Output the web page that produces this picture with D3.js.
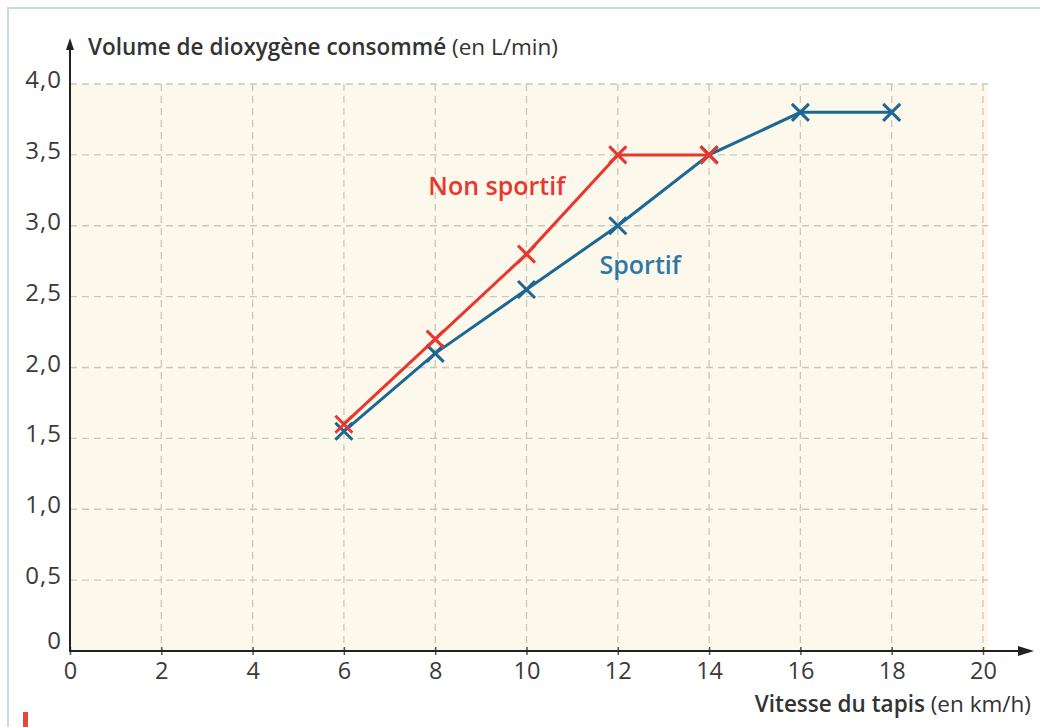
<!DOCTYPE html>
<html>
<head>
<meta charset="utf-8">
<script src="https://cdn.jsdelivr.net/npm/d3@7"></script>
<style>
  body { margin: 0; background: #fff; }
  text { font-family: "Open Sans", "Noto Sans", sans-serif; }
</style>
</head>
<body>
<div id="chart-area"></div>
<script>
// data
var speeds = [0, 2, 4, 6, 8, 10, 12, 14, 16, 18, 20];
var volumeTicks = [0, 0.5, 1, 1.5, 2, 2.5, 3, 3.5, 4];
var nonSportifX = [6, 8, 10, 12, 14];
var nonSportifY = [1.6, 2.2, 2.8, 3.5, 3.5];
var sportifX = [6, 8, 10, 12, 14, 16, 18];
var sportifY = [1.55, 2.1, 2.55, 3.0, 3.5, 3.8, 3.8];

var W = 1040, H = 727;
var margin = { left: 70, right: 57, top: 84, bottom: 76 };
var width = 983 - margin.left;
var height = 651 - margin.top;

var red = "#e8372f", blue = "#1d6795";

var svg = d3.select("#chart-area").append("svg")
  .attr("width", W)
  .attr("height", H);

// page frame
svg.append("path")
  .attr("d", "M8,727 L8,8 L1040,8")
  .attr("fill", "none")
  .attr("stroke", "#c9dbe2")
  .attr("stroke-width", 2);
svg.append("rect")
  .attr("x", 23).attr("y", 712).attr("width", 5).attr("height", 15)
  .attr("fill", "#e8463a");

var g = svg.append("g")
  .attr("transform", "translate(" + margin.left + "," + margin.top + ")");

var x = d3.scaleLinear().domain([0, 20]).range([0, width]);
var y = d3.scaleLinear().domain([0, 4]).range([height, 0]);

// panel
g.append("rect")
  .attr("x", 0).attr("y", 0)
  .attr("width", width + 5).attr("height", height)
  .attr("fill", "#fcf8eb");

// grid
g.selectAll(".vgrid")
  .data(speeds.slice(1))
  .enter().append("line")
    .attr("x1", function(d) { return x(d); })
    .attr("x2", function(d) { return x(d); })
    .attr("y1", 0).attr("y2", height)
    .attr("stroke", "#cbc7bb")
    .attr("stroke-width", 1.3)
    .attr("stroke-dasharray", "7,5");

g.selectAll(".hgrid")
  .data(volumeTicks.slice(1))
  .enter().append("line")
    .attr("x1", 0).attr("x2", width + 5)
    .attr("y1", function(d) { return y(d); })
    .attr("y2", function(d) { return y(d); })
    .attr("stroke", "#cbc7bb")
    .attr("stroke-width", 1.3)
    .attr("stroke-dasharray", "7,5");

// axes
var xAxisCall = d3.axisBottom(x)
  .tickValues(speeds)
  .tickSize(4)
  .tickPadding(7)
  .tickFormat(function(d) { return d; });
var xAxisGroup = g.append("g")
  .attr("transform", "translate(0," + height + ")")
  .call(xAxisCall);
xAxisGroup.select(".domain").remove();
xAxisGroup.selectAll(".tick line").attr("stroke", "#555").attr("stroke-width", 1.5).attr("y1", -4);
xAxisGroup.selectAll(".tick text")
  .attr("font-size", 23.5).attr("fill", "#3a3a3a")
  .attr("font-family", "Open Sans, sans-serif");

var yAxisCall = d3.axisLeft(y)
  .tickValues(volumeTicks)
  .tickSize(0)
  .tickPadding(8)
  .tickFormat(function(d) { return d === 0 ? "0" : d3.format(".1f")(d).replace(".", ","); });
var yAxisGroup = g.append("g").call(yAxisCall);
yAxisGroup.select(".domain").remove();
yAxisGroup.selectAll(".tick text")
  .attr("font-size", 24).attr("fill", "#3a3a3a")
  .attr("letter-spacing", 1)
  .attr("dy", function(d) { return d === 0 ? "-0.1em" : "0.15em"; })
  .attr("font-family", "Open Sans, sans-serif");

// axis lines with arrows
svg.append("line")
  .attr("x1", margin.left).attr("x2", margin.left)
  .attr("y1", margin.top + height + 1).attr("y2", 46)
  .attr("stroke", "#222").attr("stroke-width", 2);
svg.append("path")
  .attr("d", "M" + (margin.left - 4) + ",50 L" + margin.left + ",38 L" + (margin.left + 4) + ",50 Z")
  .attr("fill", "#222");
svg.append("line")
  .attr("x1", margin.left - 1).attr("x2", 1024)
  .attr("y1", margin.top + height).attr("y2", margin.top + height)
  .attr("stroke", "#222").attr("stroke-width", 2);
svg.append("path")
  .attr("d", "M1018," + (margin.top + height - 5) + " L1034," + (margin.top + height) + " L1018," + (margin.top + height + 5) + " Z")
  .attr("fill", "#222");

// axis titles
var yTitle = svg.append("text")
  .attr("x", 88).attr("y", 55)
  .attr("font-size", 22.5).attr("fill", "#333");
yTitle.append("tspan").attr("font-weight", 600).text("Volume de dioxygène consommé");
yTitle.append("tspan").text(" (en L/min)");

var xTitle = svg.append("text")
  .attr("x", 1031).attr("y", 712)
  .attr("text-anchor", "end")
  .attr("font-size", 22.5).attr("fill", "#333");
xTitle.append("tspan").attr("font-weight", 600).text("Vitesse du tapis");
xTitle.append("tspan").text(" (en km/h)");

// series
var line = d3.line()
  .x(function(d) { return x(d[0]); })
  .y(function(d) { return y(d[1]); });

function drawSeries(xs, ys, color) {
  var pts = d3.zip(xs, ys);
  g.append("path")
    .datum(pts)
    .attr("fill", "none")
    .attr("stroke", color)
    .attr("stroke-width", 3)
    .attr("d", line);
  var s = 8.5;
  g.selectAll(null)
    .data(pts)
    .enter().append("path")
      .attr("d", function(d) {
        var cx = x(d[0]), cy = y(d[1]);
        return "M" + (cx - s) + "," + (cy - s) + "L" + (cx + s) + "," + (cy + s) +
               "M" + (cx - s) + "," + (cy + s) + "L" + (cx + s) + "," + (cy - s);
      })
      .attr("stroke", color)
      .attr("stroke-width", 3);
}

drawSeries(sportifX, sportifY, blue);
drawSeries(nonSportifX, nonSportifY, red);

// series labels
g.append("text")
  .attr("x", x(7.85)).attr("y", y(3.22))
  .attr("font-size", 25).attr("font-weight", 600)
  .attr("fill", red)
  .text("Non sportif");

g.append("text")
  .attr("x", x(11.6)).attr("y", y(2.66))
  .attr("font-size", 25).attr("font-weight", 600)
  .attr("fill", "#2d78a6")
  .text("Sportif");
</script>
</body>
</html>
